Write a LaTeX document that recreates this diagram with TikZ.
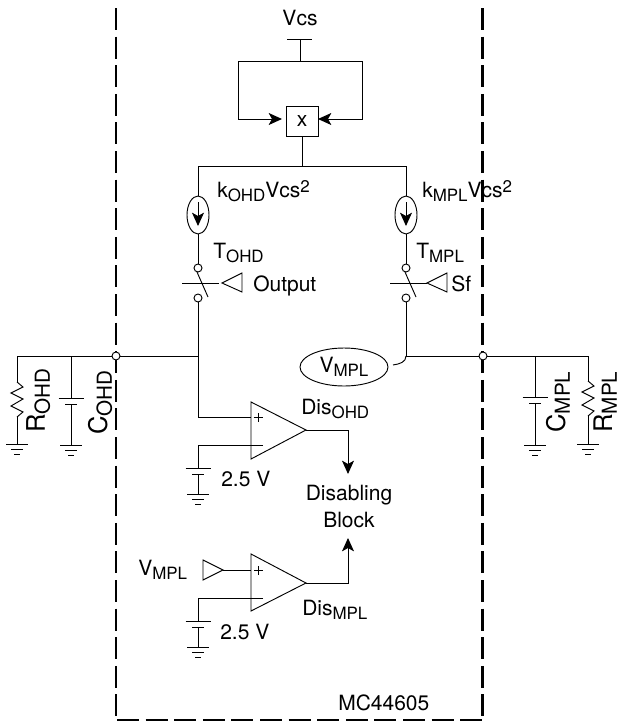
\documentclass[tikz,border=0pt]{standalone}
\usepackage{fontspec}
\setmainfont{TeX Gyre Heros}
\usetikzlibrary{arrows.meta,shapes.geometric}
\newcommand{\subtxt}[1]{\raisebox{-3pt}{\fontsize{12.7}{14}\selectfont #1}}
\newcommand{\suptxt}[1]{\raisebox{3.7pt}{\fontsize{12.7}{14}\selectfont #1}}
\tikzset{
  wire/.style={line width=0.7pt},
  frame/.style={line width=1.7pt,dash pattern=on 16.5pt off 4.95pt},
  arrowed/.style={-{Stealth[length=10pt,width=9pt,inset=2.5pt]}},
  lbl/.style={anchor=base west,inner sep=0pt,font=\fontsize{15.75}{18}\selectfont},
  lblrot/.style={lbl,rotate=90,scale=1.22},
  contact/.style={circle,draw,fill=white,line width=0.7pt,minimum size=6pt,inner sep=0pt},
  source/.style={ellipse,draw,line width=0.7pt,minimum width=16.5pt,minimum height=28.5pt,inner sep=0pt},
  gnd/.pic={\draw[wire] (-11,0) -- (11,0) (-6,-5) -- (6,-5) (-3,-10) -- (3,-10);},
  plates/.pic={\draw[wire] (-12.5,0) -- (12.5,0) (-6,-6.5) -- (6,-6.5);},
  zigzag/.pic={\draw[wire] (0,0) -- (6,-5) -- (-6,-11) -- (6,-17) -- (-6,-24) -- (6,-30) -- (0,-35);},
  plus/.pic={\draw[wire] (-4.5,0) -- (4.5,0) (0,-4.5) -- (0,4.5);},
}
\begin{document}
\begin{tikzpicture}[x=0.75pt,y=0.75pt,yscale=-1,xscale=1]
\useasboundingbox (0,0) rectangle (622,722);

%Frame
\coordinate (frameTL) at (116,8);
\coordinate (frameBL) at (116,717);
\coordinate (frameTR) at (482.5,8);
\coordinate (frameBR) at (482.5,717);
\coordinate (frameL) at (117,720);
\coordinate (frameR) at (483,720);
\draw [frame] (frameTL) -- (frameBL);
\draw [frame] (frameTR) -- (frameBR);
\draw [frame] (frameL) -- (frameR);

%Vcs and multiplier
\coordinate (barL) at (287,39);
\coordinate (barR) at (312,39);
\coordinate (barM) at (300,39);
\coordinate (loopM) at (300,61);
\coordinate (loopL) at (238,61);
\coordinate (loopR) at (362,61);
\coordinate (inL) at (282,119);
\coordinate (inR) at (318,119);
\coordinate (busL) at (198,166);
\coordinate (busR) at (406,166);
\coordinate (busM) at (302,166);
\node [draw,line width=0.7pt,minimum width=24pt,minimum height=22.5pt,inner sep=0pt,font=\fontsize{15.75}{18}\selectfont] (mul) at (302,121) {x};
\draw [wire] (barL) -- (barR);
\draw [wire] (barM) -- (loopM);
\draw [wire] (loopL) -- (loopR);
\draw [wire,arrowed] (loopL) |- (inL);
\draw [wire,arrowed] (loopR) |- (inR);
\draw [wire] (mul.south) -- (busM);
\draw [wire] (busL) -- (busR);

%Current sources
\node [source] (srcOHD) at (198,215) {};
\node [source] (srcMPL) at (406,215) {};
\coordinate (srcOHDa) at (198,202);
\coordinate (srcOHDb) at (198,226);
\coordinate (srcMPLa) at (406,202);
\coordinate (srcMPLb) at (406,226);
\draw [wire,arrowed] (srcOHDa) -- (srcOHDb);
\draw [wire,arrowed] (srcMPLa) -- (srcMPLb);
\draw [wire] (busL) -- (srcOHD);
\draw [wire] (busR) -- (srcMPL);

%Switches
\node [contact] (ohdA) at (198,268) {};
\node [contact] (ohdB) at (198,298) {};
\node [contact] (mplA) at (406,268) {};
\node [contact] (mplB) at (406,298) {};
\draw [wire] (srcOHD) -- (ohdA);
\draw [wire] (srcMPL) -- (mplA);
\coordinate (bladeOHDa) at (197,272);
\coordinate (bladeOHDb) at (208,297);
\coordinate (bladeMPLa) at (405,272);
\coordinate (bladeMPLb) at (416,297);
\draw [wire] (bladeOHDa) -- (bladeOHDb);
\draw [wire] (bladeMPLa) -- (bladeMPLb);
\coordinate (ctlOHDa) at (182,283);
\coordinate (ctlOHDb) at (219,283);
\coordinate (ctlMPLa) at (390,283);
\coordinate (ctlMPLb) at (427,283);
\draw [wire] (ctlOHDa) -- (ctlOHDb);
\draw [wire] (ctlMPLa) -- (ctlMPLb);
\coordinate (tipOHD) at (222,283);
\coordinate (tipMPL) at (427,283);
\draw [wire] (tipOHD) -- (242,273) -- (242,292) -- cycle;
\draw [wire] (tipMPL) -- (447,273) -- (447,292) -- cycle;

%Main lines
\node [contact] (pinL) at (116,356) {};
\node [contact] (pinR) at (483,356) {};
\node [ellipse,draw,line width=0.7pt,minimum width=66pt,minimum height=28.5pt,inner sep=0pt,font=\fontsize{15.75}{18}\selectfont] (vmplTag) at (344,367) {V\subtxt{MPL}};
\coordinate (jOHD) at (198,356);
\coordinate (jMPL) at (406,356);
\coordinate (rOHD) at (17,356);
\coordinate (cOHD) at (71,356);
\coordinate (cMPL) at (535,356);
\coordinate (rMPL) at (588,356);
\coordinate (tagEnd) at (393,365);
\draw [wire] (ohdB) -- (jOHD);
\draw [wire] (mplB) -- (jMPL);
\draw [wire] (jOHD) -- (pinL);
\draw [wire] (pinL) -- (rOHD);
\draw [wire] (jMPL) -- (pinR);
\draw [wire] (pinR) -- (rMPL);
\draw [wire] (jMPL) .. controls (406,362) and (400,364) .. (tagEnd);

%Left parts
\coordinate (rOHDa) at (17,382);
\coordinate (rOHDb) at (17,417);
\coordinate (rOHDg) at (17,444);
\coordinate (cOHDa) at (71,398);
\coordinate (cOHDb) at (71,404.5);
\coordinate (cOHDg) at (71,445);
\draw [wire] (rOHD) -- (rOHDa);
\draw [wire] (rOHDb) -- (rOHDg);
\draw [wire] (cOHD) -- (cOHDa);
\draw [wire] (cOHDb) -- (cOHDg);
\pic at (rOHDa) {zigzag};
\pic at (rOHDg) {gnd};
\pic at (cOHDa) {plates};
\pic at (cOHDg) {gnd};

%Right parts
\coordinate (rMPLa) at (588,381);
\coordinate (rMPLb) at (588,416);
\coordinate (rMPLg) at (588,444);
\coordinate (cMPLa) at (535,397);
\coordinate (cMPLb) at (535,403.5);
\coordinate (cMPLg) at (535,445);
\draw [wire] (rMPL) -- (rMPLa);
\draw [wire] (rMPLb) -- (rMPLg);
\draw [wire] (cMPL) -- (cMPLa);
\draw [wire] (cMPLb) -- (cMPLg);
\pic at (rMPLa) {zigzag};
\pic at (rMPLg) {gnd};
\pic at (cMPLa) {plates};
\pic at (cMPLg) {gnd};

%Upper comparator
\coordinate (cmpOHDa) at (251,402);
\coordinate (cmpOHDb) at (251,459);
\coordinate (cmpOHD) at (306,430);
\coordinate (plusOHD) at (251,417);
\coordinate (minusOHD) at (263,445);
\coordinate (batOHDa) at (198,468);
\coordinate (batOHDb) at (198,474.5);
\coordinate (batOHDg) at (198,494);
\coordinate (outOHD) at (348,474);
\draw [wire] (cmpOHDa) -- (cmpOHDb) -- (cmpOHD) -- cycle;
\draw [wire] (jOHD) |- (plusOHD);
\draw [wire] (minusOHD) -| (batOHDa);
\draw [wire] (batOHDb) -- (batOHDg);
\draw [wire,arrowed] (cmpOHD) -| (outOHD);
\pic at (258,417) {plus};
\pic at (batOHDa) {plates};
\pic at (batOHDg) {gnd};

%Lower comparator
\coordinate (cmpMPLa) at (251,554);
\coordinate (cmpMPLb) at (251,611);
\coordinate (cmpMPL) at (306,583);
\coordinate (plusMPL) at (251,570);
\coordinate (minusMPL) at (263,598);
\coordinate (batMPLa) at (198,621);
\coordinate (batMPLb) at (198,627.5);
\coordinate (batMPLg) at (198,647);
\coordinate (outMPL) at (348,538);
\coordinate (tagTip) at (223,570);
\draw [wire] (cmpMPLa) -- (cmpMPLb) -- (cmpMPL) -- cycle;
\draw [wire] (tagTip) -- (plusMPL);
\draw [wire] (tagTip) -- (203,560) -- (203,580) -- cycle;
\draw [wire] (minusMPL) -| (batMPLa);
\draw [wire] (batMPLb) -- (batMPLg);
\draw [wire,arrowed] (cmpMPL) -| (outMPL);
\pic at (258.5,570) {plus};
\pic at (batMPLa) {plates};
\pic at (batMPLg) {gnd};

% Text Node
\node [lbl,anchor=base] (txtVcs) at (300,25) {Vcs};
\node [lbl] (txtkOHD) at (217,197) {k\subtxt{OHD}Vcs\suptxt{2}};
\node [lbl] (txtkMPL) at (422,197) {k\subtxt{MPL}Vcs\suptxt{2}};
\node [lbl] (txtTOHD) at (213,258) {T\subtxt{OHD}};
\node [lbl] (txtTMPL) at (416,258) {T\subtxt{MPL}};
\node [lbl] (txtOutput) at (253,291) {Output};
\node [lbl] (txtSf) at (451,291) {Sf};
\node [lbl] (txtDisOHD) at (301,414) {Dis\subtxt{OHD}};
\node [lbl] (txtDisMPL) at (302,615) {Dis\subtxt{MPL}};
\node [lbl,anchor=base] (txtDisabling) at (349,500) {Disabling};
\node [lbl,anchor=base] (txtBlock) at (349,527) {Block};
\node [lbl] (txtBatA) at (221,486) {2.5 V};
\node [lbl] (txtBatB) at (220,639) {2.5 V};
\node [lbl] (txtVMPL) at (138,575) {V\subtxt{MPL}};
\node [lbl] (txtChip) at (338,710) {MC44605};
\node [lblrot] (txtROHD) at (45,433) {R\subtxt{OHD}};
\node [lblrot] (txtCOHD) at (107,435) {C\subtxt{OHD}};
\node [lblrot] (txtCMPL) at (565,433) {C\subtxt{MPL}};
\node [lblrot] (txtRMPL) at (612,433) {R\subtxt{MPL}};

\end{tikzpicture}
\end{document}
